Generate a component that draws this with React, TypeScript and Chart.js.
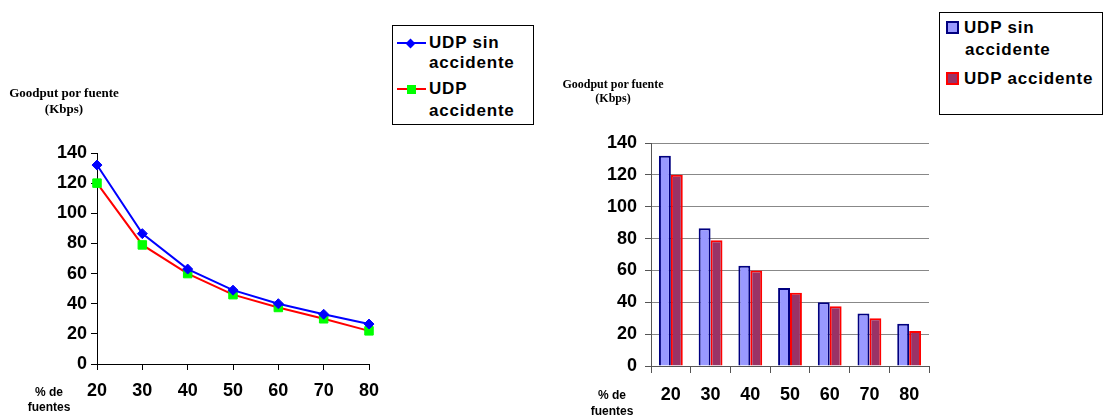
import React, { useEffect, useRef } from "react";
import { Chart, registerables } from "chart.js";

Chart.register(...registerables);

// ---- data ----
const categories = ["20", "30", "40", "50", "60", "70", "80"];
const udpSinAccidente = [132, 86.5, 63, 49, 40, 33, 26.5];
const udpAccidente = [120, 79, 60, 46, 37.5, 30, 22];
const yMin = 0;
const yMax = 140;
const yStep = 20;
const legendSin = ["UDP sin", "accidente"];
const legendAcc = ["UDP", "accidente"];
const yTitle = ["Goodput por fuente", "(Kbps)"];
const xTitle = ["% de", "fuentes"];

const SANS = "'Liberation Sans', Arial, sans-serif";
const SERIF = "'Liberation Serif', 'Times New Roman', serif";
const tickFont = { family: SANS, size: 18, weight: "bold" as const };

export default function App() {
  const lineRef = useRef<HTMLCanvasElement | null>(null);
  const barRef = useRef<HTMLCanvasElement | null>(null);

  useEffect(() => {
    const lineChart = new Chart(lineRef.current!, {
      type: "line",
      data: {
        labels: categories,
        datasets: [
          {
            label: legendSin.join(" "),
            data: udpSinAccidente,
            borderColor: "#0000FF",
            backgroundColor: "#0000FF",
            pointBackgroundColor: "#0000FF",
            pointBorderColor: "#0000FF",
            borderWidth: 2,
            pointStyle: "rectRot",
            pointRadius: 5,
            pointBorderWidth: 1,
            tension: 0,
          },
          {
            label: legendAcc.join(" "),
            data: udpAccidente,
            borderColor: "#FF0000",
            backgroundColor: "#00FF00",
            pointBackgroundColor: "#00FF00",
            pointBorderColor: "#00FF00",
            borderWidth: 2,
            pointStyle: "rect",
            pointRadius: 6,
            pointBorderWidth: 1,
            tension: 0,
          },
        ],
      },
      options: {
        responsive: false,
        animation: false,
        layout: { padding: { left: 0, top: 153, right: 31, bottom: 0 } },
        plugins: { legend: { display: false }, tooltip: { enabled: false } },
        scales: {
          x: {
            grid: { drawOnChartArea: false, color: "#000", tickColor: "#000", tickLength: 6 },
            border: { color: "#000", width: 1 },
            ticks: { color: "#000", font: tickFont, padding: 10, maxRotation: 0, autoSkip: false },
            afterFit: (s: any) => {
              s.height = 52;
            },
          },
          y: {
            min: yMin,
            max: yMax,
            grid: { drawOnChartArea: false, color: "#000", tickColor: "#000", tickLength: 6 },
            border: { color: "#000", width: 1 },
            ticks: { stepSize: yStep, color: "#000", font: tickFont, padding: 4 },
            afterFit: (s: any) => {
              s.width = 97;
            },
          },
        },
      },
    });

    const barChart = new Chart(barRef.current!, {
      type: "bar",
      data: {
        labels: categories,
        datasets: [
          {
            label: legendSin.join(" "),
            data: udpSinAccidente,
            backgroundColor: "#9999FF",
            borderColor: "#000080",
            borderWidth: 2,
            categoryPercentage: 0.6,
            barPercentage: 1.0,
          },
          {
            label: legendAcc.join(" "),
            data: udpAccidente,
            backgroundColor: "#993366",
            borderColor: "#FF0000",
            borderWidth: 2,
            categoryPercentage: 0.6,
            barPercentage: 1.0,
          },
        ],
      },
      options: {
        responsive: false,
        animation: false,
        layout: { padding: { left: 0, top: 143, right: 31, bottom: 0 } },
        plugins: { legend: { display: false }, tooltip: { enabled: false } },
        scales: {
          x: {
            grid: { drawOnChartArea: false, offset: true, color: "#555", tickColor: "#555", tickLength: 7 },
            border: { color: "#555", width: 1 },
            ticks: { color: "#000", font: tickFont, padding: 11, maxRotation: 0, autoSkip: false },
            afterFit: (s: any) => {
              s.height = 50;
            },
          },
          y: {
            min: yMin,
            max: yMax,
            grid: { color: "#888", tickColor: "#555", tickLength: 6 },
            border: { color: "#555", width: 1 },
            ticks: { stepSize: yStep, color: "#000", font: tickFont, padding: 8 },
            afterFit: (s: any) => {
              s.width = 91;
            },
          },
        },
      },
    });

    return () => {
      lineChart.destroy();
      barChart.destroy();
    };
  }, []);

  const legendText: React.CSSProperties = {
    position: "absolute",
    fontFamily: SANS,
    fontWeight: "bold",
    fontSize: 17,
    letterSpacing: "0.8px",
    lineHeight: "20px",
    color: "#000",
    whiteSpace: "nowrap",
  };

  const abs = (left: number, top: number, extra: React.CSSProperties = {}): React.CSSProperties => ({
    position: "absolute",
    left,
    top,
    ...extra,
  });

  return (
    <div
      style={{
        position: "absolute",
        left: 0,
        top: 0,
        width: 1105,
        height: 416,
        overflow: "hidden",
        background: "#fff",
      }}
    >
      <canvas ref={lineRef} width={400} height={416} style={abs(0, 0, { width: 400, height: 416 })} />
      <canvas ref={barRef} width={400} height={416} style={abs(560, 0, { width: 400, height: 416 })} />

      {/* left y title */}
      <div
        style={abs(4, 85, {
          width: 120,
          textAlign: "center",
          fontFamily: SERIF,
          fontWeight: "bold",
          fontSize: 13,
          lineHeight: "15.5px",
          color: "#000",
        })}
      >
        {yTitle[0]}
        <br />
        {yTitle[1]}
      </div>
      {/* left x title */}
      <div
        style={abs(9, 384.5, {
          width: 80,
          textAlign: "center",
          fontFamily: SANS,
          fontWeight: "bold",
          fontSize: 12,
          lineHeight: "15px",
          color: "#000",
        })}
      >
        {xTitle[0]}
        <br />
        {xTitle[1]}
      </div>

      {/* right y title */}
      <div
        style={abs(553, 77, {
          width: 120,
          textAlign: "center",
          fontFamily: SERIF,
          fontWeight: "bold",
          fontSize: 12,
          lineHeight: "14px",
          color: "#000",
        })}
      >
        {yTitle[0]}
        <br />
        {yTitle[1]}
      </div>
      {/* right x title */}
      <div
        style={abs(572, 387, {
          width: 80,
          textAlign: "center",
          fontFamily: SANS,
          fontWeight: "bold",
          fontSize: 12,
          lineHeight: "16px",
          color: "#000",
        })}
      >
        {xTitle[0]}
        <br />
        {xTitle[1]}
      </div>

      {/* left legend */}
      <div
        style={abs(392, 25, {
          width: 142,
          height: 100,
          boxSizing: "border-box",
          border: "1px solid #000",
          background: "#fff",
        })}
      />
      <div style={abs(397, 42, { width: 29, height: 2, background: "#0000FF" })} />
      <div
        style={abs(407, 39.5, {
          width: 7,
          height: 7,
          background: "#0000FF",
          transform: "rotate(45deg)",
        })}
      />
      <div style={{ ...legendText, left: 429, top: 33 }}>{legendSin[0]}</div>
      <div style={{ ...legendText, left: 429, top: 53 }}>{legendSin[1]}</div>
      <div style={abs(397, 88, { width: 29, height: 2, background: "#FF0000" })} />
      <div style={abs(407, 85, { width: 9, height: 9, background: "#00FF00" })} />
      <div style={{ ...legendText, left: 429, top: 79 }}>{legendAcc[0]}</div>
      <div style={{ ...legendText, left: 429, top: 101 }}>{legendAcc[1]}</div>

      {/* right legend */}
      <div
        style={abs(939, 12, {
          width: 164,
          height: 103,
          boxSizing: "border-box",
          border: "1px solid #000",
          background: "#fff",
        })}
      />
      <div
        style={abs(946, 21, {
          width: 13,
          height: 13,
          boxSizing: "border-box",
          border: "2px solid #000080",
          background: "#9999FF",
        })}
      />
      <div style={{ ...legendText, left: 964, top: 18 }}>{legendSin[0]}</div>
      <div style={{ ...legendText, left: 965, top: 40 }}>{legendSin[1]}</div>
      <div
        style={abs(946, 72, {
          width: 13,
          height: 13,
          boxSizing: "border-box",
          border: "2px solid #FF0000",
          background: "#993366",
        })}
      />
      <div style={{ ...legendText, left: 964, top: 69 }}>{legendAcc.join(" ")}</div>
    </div>
  );
}
